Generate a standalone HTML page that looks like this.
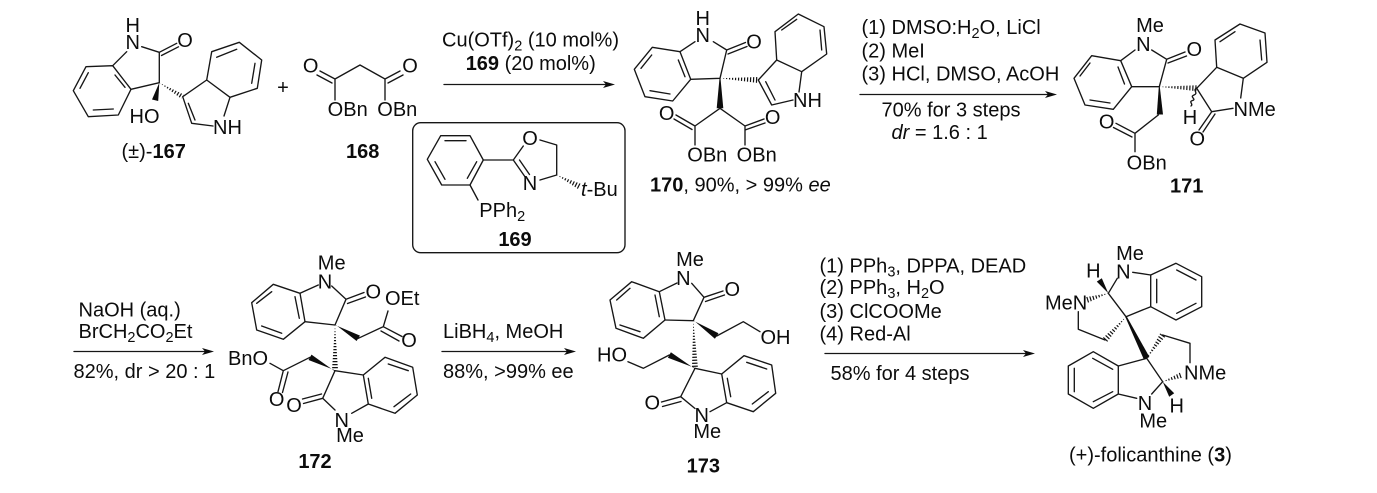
<!DOCTYPE html>
<html><head><meta charset="utf-8"><style>
html,body{margin:0;padding:0;background:#fff}
svg{display:block}
text{font-family:"Liberation Sans",Arial,sans-serif;font-size:20px;fill:#0c0c0c}
.b{font-weight:bold}
.m{text-anchor:middle}
.l path,path.l{fill:none;stroke:#161616;stroke-width:1.35;stroke-linejoin:round;stroke-linecap:round}
.f{fill:#0c0c0c;stroke:none}
.h{fill:none;stroke:#111;stroke-width:7;stroke-dasharray:1.2 1.8}
tspan.s{font-size:14.5px}
</style></head><body>
<svg width="1377" height="493" viewBox="0 0 1377 493" xmlns="http://www.w3.org/2000/svg">
<defs>
<clipPath id="c1"><polygon points="159.3,82.7 181.4,98.8 184,94.6"/></clipPath>
<clipPath id="c2"><polygon points="720,78.3 758,83 758,77"/></clipPath>
<clipPath id="c3"><polygon points="1159.3,86.7 1196.7,91.3 1196.7,85.3"/></clipPath>
<clipPath id="c4"><polygon points="556.7,175 578.6,189.4 581.4,184"/></clipPath>
<clipPath id="c5"><polygon points="335,325 332,370 338,370"/></clipPath>
<clipPath id="c6"><polygon points="693.3,320.7 692,368 698,368"/></clipPath>
<clipPath id="c7"><polygon points="1108.3,293.3 1087.6,302.9 1085.8,297.1"/></clipPath>
<clipPath id="c8"><polygon points="1126,316.7 1107.2,342 1102.8,338"/></clipPath>
<clipPath id="c9"><polygon points="1146.7,358.3 1165.2,336.7 1160.2,333.3"/></clipPath>
<clipPath id="c10"><polygon points="1162.7,381.7 1182.7,377.8 1180.7,372.2"/></clipPath>
</defs>

<g class="l">
<!-- 167 -->
<path d="M112.7 65.7L86 66.7L73.3 90.7L88.3 116.7L118.3 115L131 89.3ZM88.3 72.7L80 88.3M93.3 110L113.3 109M115 75L125 87.3"/>
<path d="M112.7 65.7L126.7 51.7M141.7 46.7L159.3 52.3L159.3 82.7L131 89.3M159.3 52.3L176.7 43.3M161.5 55.5L178.5 46.8"/>
<path d="M182.7 96.7L206.7 80L230 97.3L224 116M182.7 96.7L191.7 123.3L213 126M188.3 103.3L195 120"/>
<path d="M206.7 80L211.7 51.7L239.3 42.3L261.7 60L257.3 88.3L230 97.3M216.7 57.3L236.7 49.3M255 63.3L251.7 83.3"/>
<!-- 168 -->
<path d="M335 100L335 79L360 65L385 79L385 100M335 79L320 71M332 83L317 75M385 79L400 71M388 83L403 75"/>
<!-- 169 -->
<path d="M427.3 159.3L440.7 135.7L470 135.7L483.3 160L470 185L441.7 185ZM445 140.7L466 140.7M476.7 161.7L467.3 178.3M435 161.7L445 179.3"/>
<path d="M483.3 160L513.3 160L523.3 146M513.3 160L525 176.7M519.5 160L529.5 174.5M540 180L556.7 175L556.7 145L540 140M470 185L478 200"/>
<!-- 170 -->
<path d="M680 51.7L652.3 47.3L634.3 69.3L645 96.7L672.7 101L690.7 79.3ZM651.7 55L641 68.3M650 90.7L670 94M678.3 60L685 76.7"/>
<path d="M680 51.7L695 41.7M713.3 41.7L726.7 50L720 78.3L690.7 79.3M726.7 50L745.5 42.5M728 54L747 46.5"/>
<path d="M758.3 80L776.7 60L801.7 71.7L799 92M758.3 80L771.7 105L793 100M765.7 81.7L775 100"/>
<path d="M776.7 60L775 31.7L798.3 14L824 26.7L826.7 54L801.7 71.7M781.7 30L796.7 19.3M820 30L821.7 50"/>
<path d="M720 108.3L695 126L695 145M720 108.3L745 126L745 145M695 126L676 115M692 129.5L674 119M745 126L764 119M745 130L765 123"/>
<!-- 171 -->
<path d="M1120.7 60.7L1091.7 55.7L1074 78.3L1085 105L1113.3 109.3L1131.7 86.7ZM1090 63L1080 76M1090 100L1110 103M1118 67L1124.5 84"/>
<path d="M1120.7 60.7L1135 50M1151.7 50L1166.7 59.3L1159.3 86.7L1131.7 86.7M1166.7 59.3L1185 52M1168 63L1186.5 56"/>
<path d="M1158.3 115L1135 133.3L1135 151.7M1135 133.3L1116 123.3M1132 137L1113.5 127.5"/>
<path d="M1196.7 88.3L1216.7 67.3L1243.3 78.3L1240.7 98M1196.7 88.3L1211.7 111.7L1233 108.3M1211.7 111.7L1199 130M1215 114L1203 132"/>
<path d="M1216.7 67.3L1215 40L1240 24L1265 33L1267 62.3L1243.3 78.3M1220 41.7L1235 31.7M1260 40L1261.7 60"/>
<path d="M1196.7 88.3C1192 90 1199 93 1194 95S1197 99 1192.5 100.5S1194 104 1191 106"/>
<!-- 172 -->
<path d="M300 293.3L273.3 284.3L251.7 302.7L256.7 330L283.3 339.3L305 321.7ZM271.7 291.7L256.7 303.3M261.7 326L281.7 333.3M295 296.7L299.3 318.3"/>
<path d="M300 293.3L318.3 285M331.7 286L346 299.3L335 325L305 321.7M346 299.3L364 292.5M347.5 303.5L365.5 297"/>
<path d="M358.3 338.3L383.3 326.7L388 311M383.3 326.7L402 336.5M381 331L399 341"/>
<path d="M363.3 375L385 357.3L412.7 367.3L417.3 395L395 413.3L368.3 404ZM388.3 364L408.3 370.7M410.7 394L394 406.7M368.3 378.3L371.7 398.3"/>
<path d="M335 370.7L363.3 375M335 370.7L322.7 398.3L335 410M322.7 398.3L303.5 403.5M321.5 394L302.5 399M351.7 413.3L368.3 404"/>
<path d="M310 357.3L283.3 370.7L270 363.3M283.3 370.7L278 391.7M288 372L282.5 392.5"/>
<!-- 173 -->
<path d="M659.3 291.7L631.7 281.7L610 300L616 328.3L643.3 338.3L665 320ZM630 288.3L616.7 300M620 325L640 331.7M655 295L659.3 316.7"/>
<path d="M659.3 291.7L677 283M691.7 283.3L704 297.3L693.3 320.7L665 320M704 297.3L723 291M705.5 301.5L724.5 295"/>
<path d="M716.7 336L743.3 321.7L760 331.7"/>
<path d="M721.7 374L744 355.7L771.7 365L775.7 393.3L753.3 411.7L726.7 402.7ZM746.7 362.3L766.7 369M768.3 391.7L752.3 404M727.3 378.3L730.7 396.7"/>
<path d="M695 368.3L721.7 374M695 368.3L680.7 396.7L695 408.5M680.7 396.7L661.5 402M681 401.5L662.5 406.5M710 411.7L726.7 402.7"/>
<path d="M669.3 355L643.3 368.3L628 361.7"/>
<!-- folicanthine -->
<path d="M1150.7 275L1176 263.3L1201.7 276.7L1201.7 306.7L1176 320L1150.7 306.7ZM1176.7 270L1196 280M1196 303.3L1176.7 313.3M1156.7 279.3L1156.7 302.7"/>
<path d="M1132.7 272.3L1150.7 275M1108.3 293.3L1117.3 278.3M1126 316.7L1108.3 293.3M1126 316.7L1150.7 306.7"/>
<path d="M1078.3 311.7L1078.3 329.3L1105 340"/>
<path d="M1162.7 335L1190 343.3L1190 362.7M1146.7 358.3L1162.7 381.7L1151.7 394M1136.7 398.3L1118.3 394"/>
<path d="M1118.3 366L1093.3 351.7L1068.3 366L1068.3 394L1093.3 408.3L1118.3 394ZM1092.7 358.3L1112.7 369.3M1074.3 368.3L1074.3 391.7M1093.3 401.7L1112.7 391.7M1146.7 358.3L1118.3 366"/>
<!-- arrows -->
<path d="M444 84.5L608 84.5M860 94.5L1050 94.5M74 351.5L208 351.5M442 351.5L570 351.5M825 353.5L1028 353.5"/>
<!-- box -->
<path d="M420.7 122.7H617A8 8 0 0 1 625 130.7V244.7A8 8 0 0 1 617 252.7H420.7A8 8 0 0 1 412.7 244.7V130.7A8 8 0 0 1 420.7 122.7Z"/>
</g>

<!-- arrowheads -->
<polygon class="f" points="615,84.5 603,81 606,84.5 603,88"/>
<polygon class="f" points="1057,94.5 1045,91 1048,94.5 1045,98"/>
<polygon class="f" points="214,351.5 202,348 205,351.5 202,355"/>
<polygon class="f" points="576,351.5 564,348 567,351.5 564,355"/>
<polygon class="f" points="1035,353.5 1023,350 1026,353.5 1023,357"/>

<!-- wedges -->
<polygon class="f" points="159.3,82.7 152,99.5 158.2,101"/>
<polygon class="f" points="719.5,78.3 716.7,108.3 723.3,108.3 720.5,78.3"/>
<polygon class="f" points="1158.8,86.7 1156.8,114.5 1163,114.5 1159.8,86.7"/>
<polygon class="f" points="335,324.3 356.6,341 360,335.6 335.6,325.3"/>
<polygon class="f" points="335,371.4 311.5,354.6 308.5,360 334.4,370"/>
<polygon class="f" points="693.3,320 714.9,338.7 718.5,333.3 693.9,321"/>
<polygon class="f" points="695,369 670.9,352.3 667.9,357.7 694.4,367.7"/>
<polygon class="f" points="1108.3,293.3 1096.8,281.6 1101.8,278.2"/>
<polygon class="f" points="1162.7,381.7 1169.2,396.8 1174.2,393.2"/>
<polygon class="f" points="1125.3,317 1144,359.8 1149.4,357 1126.7,316.4"/>

<!-- hashes -->
<path class="h" clip-path="url(#c1)" d="M159.3 82.7L182.7 96.7"/>
<path class="h" clip-path="url(#c2)" d="M720 78.3L758 80"/>
<path class="h" clip-path="url(#c3)" d="M1159.3 86.7L1196.7 88.3"/>
<path class="h" clip-path="url(#c4)" d="M556.7 175L580 186.7"/>
<path class="h" clip-path="url(#c5)" d="M335 325L335 370"/>
<path class="h" clip-path="url(#c6)" d="M693.3 320.7L695 368"/>
<path class="h" clip-path="url(#c7)" d="M1108.3 293.3L1086.7 300"/>
<path class="h" clip-path="url(#c8)" d="M1126 316.7L1105 340"/>
<path class="h" clip-path="url(#c9)" d="M1146.7 358.3L1162.7 335"/>
<path class="h" clip-path="url(#c10)" d="M1162.7 381.7L1181.7 375"/>

<!-- 167 labels -->
<text class="m" x="132.7" y="32">H</text>
<text class="m" x="132.7" y="49">N</text>
<text class="m" x="185" y="47">O</text>
<text x="129.5" y="123">HO</text>
<text x="213" y="134">NH</text>
<text x="121.5" y="158">(±)-<tspan class="b">167</tspan></text>
<text class="m" x="283" y="94">+</text>
<!-- 168 -->
<text class="m" x="310.7" y="72.5">O</text>
<text class="m" x="410" y="72.5">O</text>
<text class="m" x="347.7" y="116">OBn</text>
<text class="m" x="397.3" y="116">OBn</text>
<text class="b m" x="362.7" y="158">168</text>
<!-- reagents 1 -->
<text x="442" y="46.5">Cu(OTf)<tspan class="s" dy="4">2</tspan><tspan dy="-4"> (10 mol%)</tspan></text>
<text x="465.7" y="70"><tspan class="b">169</tspan> (20 mol%)</text>
<!-- 169 -->
<text class="m" x="530" y="145">O</text>
<text class="m" x="530" y="190">N</text>
<text x="581" y="196"><tspan font-style="italic">t</tspan>-Bu</text>
<text x="479.3" y="217">PPh<tspan class="s" dy="4">2</tspan></text>
<text class="b m" x="515" y="246">169</text>
<!-- 170 -->
<text class="m" x="702.7" y="25">H</text>
<text class="m" x="702.7" y="42">N</text>
<text class="m" x="754" y="48.5">O</text>
<text x="793" y="107">NH</text>
<text class="m" x="666.7" y="120">O</text>
<text class="m" x="772.7" y="124">O</text>
<text class="m" x="707.3" y="161.5">OBn</text>
<text class="m" x="756.7" y="161.5">OBn</text>
<text x="650" y="191.5"><tspan class="b">170</tspan>, 90%, &gt; 99% <tspan font-style="italic">ee</tspan></text>
<!-- reagents 2 -->
<text x="861.5" y="34">(1) DMSO:H<tspan class="s" dy="4">2</tspan><tspan dy="-4">O, LiCl</tspan></text>
<text x="861.5" y="57.5">(2) MeI</text>
<text x="861.5" y="80.5">(3) HCl, DMSO, AcOH</text>
<text x="881.5" y="116.5">70% for 3 steps</text>
<text x="891.5" y="139"><tspan font-style="italic">dr</tspan> = 1.6 : 1</text>
<!-- 171 -->
<text class="m" x="1150" y="32">Me</text>
<text class="m" x="1143.3" y="51">N</text>
<text class="m" x="1194.3" y="56">O</text>
<text class="m" x="1106.7" y="128.5">O</text>
<text class="m" x="1190" y="124">H</text>
<text x="1233.5" y="116">NMe</text>
<text class="m" x="1197.3" y="145.5">O</text>
<text class="m" x="1146.7" y="169.5">OBn</text>
<text class="b m" x="1186.7" y="192.5">171</text>
<!-- row 2 reagents -->
<text x="78.5" y="316.5">NaOH (aq.)</text>
<text x="78.5" y="338">BrCH<tspan class="s" dy="4">2</tspan><tspan dy="-4">CO</tspan><tspan class="s" dy="4">2</tspan><tspan dy="-4">Et</tspan></text>
<text x="73.5" y="378">82%, dr &gt; 20 : 1</text>
<!-- 172 -->
<text class="m" x="331.7" y="269.5">Me</text>
<text class="m" x="325" y="288.5">N</text>
<text class="m" x="373.3" y="298.5">O</text>
<text x="385" y="305">OEt</text>
<text class="m" x="409" y="347">O</text>
<text x="228" y="365">BnO</text>
<text class="m" x="276.7" y="406">O</text>
<text class="m" x="294" y="412">O</text>
<text class="m" x="341.7" y="427">N</text>
<text class="m" x="350" y="442">Me</text>
<text class="b m" x="315" y="468">172</text>
<!-- mid reagents -->
<text x="443" y="338">LiBH<tspan class="s" dy="4">4</tspan><tspan dy="-4">, MeOH</tspan></text>
<text x="443" y="378">88%, &gt;99% ee</text>
<!-- 173 -->
<text class="m" x="690" y="266">Me</text>
<text class="m" x="683.3" y="285">N</text>
<text class="m" x="732.3" y="296">O</text>
<text x="760.5" y="344">OH</text>
<text x="597" y="361.5">HO</text>
<text class="m" x="652.3" y="409.5">O</text>
<text class="m" x="701.7" y="422">N</text>
<text class="m" x="707.3" y="438">Me</text>
<text class="b m" x="703.3" y="472.5">173</text>
<!-- reagents right -->
<text x="819.5" y="272.5">(1) PPh<tspan class="s" dy="4">3</tspan><tspan dy="-4">, DPPA, DEAD</tspan></text>
<text x="819.5" y="294">(2) PPh<tspan class="s" dy="4">3</tspan><tspan dy="-4">, H</tspan><tspan class="s" dy="4">2</tspan><tspan dy="-4">O</tspan></text>
<text x="819.5" y="318">(3) ClCOOMe</text>
<text x="819.5" y="340.5">(4) Red-Al</text>
<text x="830.5" y="380">58% for 4 steps</text>
<!-- folicanthine -->
<text class="m" x="1130" y="260">Me</text>
<text class="m" x="1123.3" y="278.5">N</text>
<text class="m" x="1093.3" y="277.5">H</text>
<text x="1045" y="309.5">MeN</text>
<text x="1184" y="379.5">NMe</text>
<text class="m" x="1176.7" y="412.5">H</text>
<text class="m" x="1145" y="410">N</text>
<text class="m" x="1153.3" y="427.5">Me</text>
<text x="1069" y="461.5">(+)-folicanthine (<tspan class="b">3</tspan>)</text>
</svg>
</body></html>
